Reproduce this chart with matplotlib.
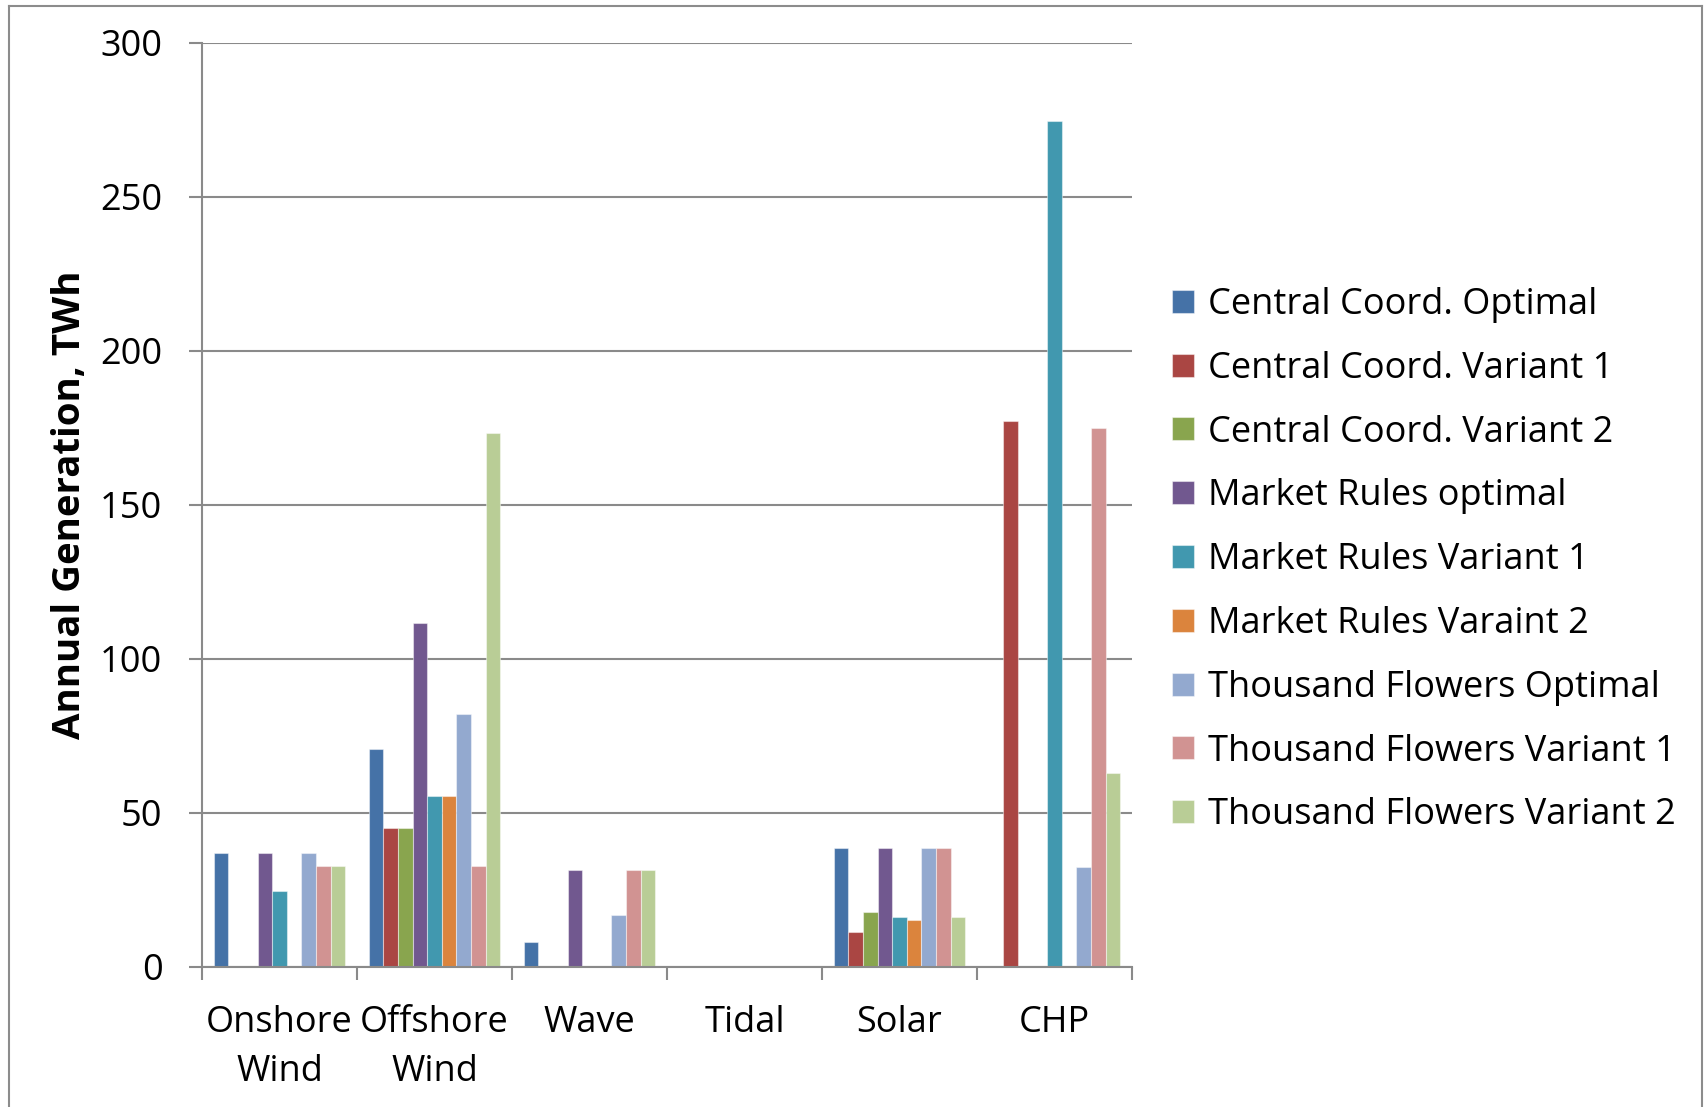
import matplotlib
matplotlib.use("Agg")
import matplotlib.pyplot as plt
import numpy as np
from matplotlib.lines import Line2D

plt.rcParams['font.family'] = ['Open Sans', 'DejaVu Sans']

categories = ["Onshore\nWind", "Offshore\nWind", "Wave", "Tidal", "Solar", "CHP"]
series_names = [
    "Central Coord. Optimal",
    "Central Coord. Variant 1",
    "Central Coord. Variant 2",
    "Market Rules optimal",
    "Market Rules Variant 1",
    "Market Rules Varaint 2",
    "Thousand Flowers Optimal",
    "Thousand Flowers Variant 1",
    "Thousand Flowers Variant 2",
]
cc_optimal = [37.1, 70.8, 8.2, 0, 38.7, 0]
cc_variant1 = [0, 45.0, 0, 0, 11.3, 177.3]
cc_variant2 = [0, 45.0, 0, 0, 18.0, 0]
mr_optimal = [37.1, 111.5, 31.5, 0, 38.7, 0]
mr_variant1 = [24.7, 55.6, 0, 0, 16.3, 274.6]
mr_variant2 = [0, 55.6, 0, 0, 15.2, 0]
tf_optimal = [37.1, 82.0, 16.8, 0, 38.7, 32.6]
tf_variant1 = [32.7, 32.7, 31.5, 0, 38.7, 175.0]
tf_variant2 = [32.7, 173.2, 31.5, 0, 16.3, 62.9]
y_ticks = [0, 50, 100, 150, 200, 250, 300]

series_values = [cc_optimal, cc_variant1, cc_variant2, mr_optimal, mr_variant1,
                 mr_variant2, tf_optimal, tf_variant1, tf_variant2]
colors = ["#4572A7", "#AA4643", "#89A54E", "#71588F", "#4198AF",
          "#DB843D", "#93A9CF", "#D19392", "#B9CD96"]

W, H, DPI = 1708, 1107, 100
fig = plt.figure(figsize=(W / DPI, H / DPI), dpi=DPI)
ax = fig.add_axes([202 / W, 1 - 967 / H, (1132 - 202) / W, (967 - 42.7) / H])

grid_col = "#8a8a8a"
fs = 26
x = np.arange(len(categories))
group = 0.85
bw = group / len(series_values)
handles = []
for i, (vals, col, name) in enumerate(zip(series_values, colors, series_names)):
    offs = -group / 2 + bw * (i + 0.5)
    b = ax.bar(x + offs, vals, width=bw, color=col, edgecolor=(1, 1, 1, 0.45),
               linewidth=0.8, label=name, zorder=3)
    handles.append(b)

ax.set_xlim(-0.5, len(categories) - 0.5)
ax.set_ylim(0, 300)
ax.set_yticks(y_ticks)
ax.set_yticklabels([str(v) for v in y_ticks])
ax.yaxis.grid(True, color=grid_col, linewidth=1.5, zorder=0)
ax.set_axisbelow(True)

# category boundaries as major ticks, names centred as minor ticks
ax.set_xticks(np.arange(-0.5, len(categories), 1.0))
ax.set_xticklabels([])
ax.set_xticks(x, minor=True)
ax.set_xticklabels(categories, minor=True, fontsize=fs)
for lbl in ax.get_xticklabels(minor=True):
    lbl.set_linespacing(1.5)
ax.tick_params(axis='x', which='major', length=9.5, width=1.5, color=grid_col, direction='out')
ax.tick_params(axis='x', which='minor', length=0, pad=27)
ax.tick_params(axis='y', length=9.5, width=1.5, color=grid_col, direction='out',
               labelsize=fs, pad=19)

for s in ['top', 'right']:
    ax.spines[s].set_visible(False)
for s in ['left', 'bottom']:
    ax.spines[s].set_color(grid_col)
    ax.spines[s].set_linewidth(1.5)
    ax.spines[s].set_zorder(4)

ax.set_ylabel("Annual Generation, TWh", fontsize=27.6, fontweight='bold', labelpad=8)

fig.legend(handles=handles, labels=series_names, loc='upper left',
           bbox_to_anchor=(1172 / W, 1 - 287 / H), frameon=False, fontsize=fs,
           handlelength=0.6, handleheight=0.6, handletextpad=0.4,
           labelspacing=0.77, borderaxespad=0, borderpad=0)

# chart frame
frame_kw = dict(color="#8c8c8c", linewidth=1.5, transform=None)
for xs, ys in [([9, 9], [0, H - 6]), ([9, 1702], [H - 6, H - 6]), ([1702, 1702], [0, H - 6])]:
    fig.add_artist(Line2D(xs, ys, **frame_kw))

fig.savefig("out.png", dpi=DPI, facecolor="white")
